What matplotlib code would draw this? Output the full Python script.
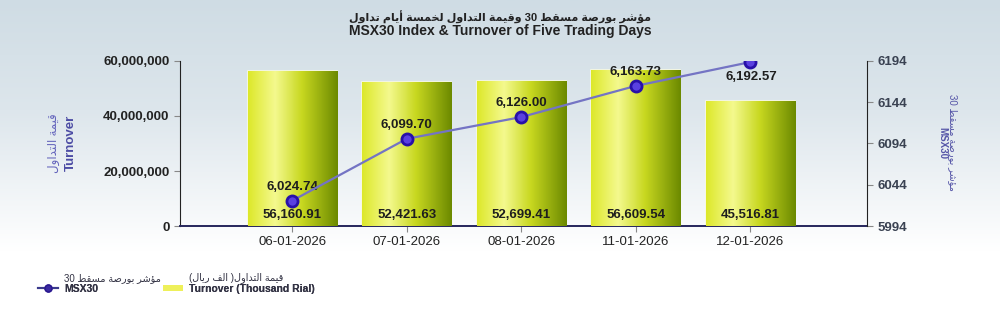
import re
import numpy as np
import matplotlib
matplotlib.use("Agg")
import matplotlib.pyplot as plt
from matplotlib.colors import LinearSegmentedColormap
from matplotlib.lines import Line2D
from matplotlib.patches import Patch

# data
dates = ["06-01-2026", "07-01-2026", "08-01-2026", "11-01-2026", "12-01-2026"]
turnover = [56160.91, 52421.63, 52699.41, 56609.54, 45516.81]   # thousand rial
msx30 = [6024.74, 6099.70, 6126.00, 6163.73, 6192.57]
left_ticks = [0, 20000000, 40000000, 60000000]
right_ticks = [5994, 6044, 6094, 6144, 6194]

# tiny arabic shaper (matplotlib has no shaping / bidi)
FORMS = {
    '\u0627': ('\uFE8D', '\uFE8E', None, None),
    '\u0623': ('\uFE83', '\uFE84', None, None),
    '\u0624': ('\uFE85', '\uFE86', None, None),
    '\u0628': ('\uFE8F', '\uFE90', '\uFE91', '\uFE92'),
    '\u0629': ('\uFE93', '\uFE94', None, None),
    '\u062A': ('\uFE95', '\uFE96', '\uFE97', '\uFE98'),
    '\u062E': ('\uFEA5', '\uFEA6', '\uFEA7', '\uFEA8'),
    '\u062F': ('\uFEA9', '\uFEAA', None, None),
    '\u0631': ('\uFEAD', '\uFEAE', None, None),
    '\u0633': ('\uFEB1', '\uFEB2', '\uFEB3', '\uFEB4'),
    '\u0634': ('\uFEB5', '\uFEB6', '\uFEB7', '\uFEB8'),
    '\u0635': ('\uFEB9', '\uFEBA', '\uFEBB', '\uFEBC'),
    '\u0637': ('\uFEC1', '\uFEC2', '\uFEC3', '\uFEC4'),
    '\u0641': ('\uFED1', '\uFED2', '\uFED3', '\uFED4'),
    '\u0642': ('\uFED5', '\uFED6', '\uFED7', '\uFED8'),
    '\u0644': ('\uFEDD', '\uFEDE', '\uFEDF', '\uFEE0'),
    '\u0645': ('\uFEE1', '\uFEE2', '\uFEE3', '\uFEE4'),
    '\u0648': ('\uFEED', '\uFEEE', None, None),
    '\u064A': ('\uFEF1', '\uFEF2', '\uFEF3', '\uFEF4'),
}
MIRROR = str.maketrans("()", ")(")


def shape(s):
    out = []
    for i, c in enumerate(s):
        if c not in FORMS:
            out.append(c)
            continue
        iso, fin, ini, med = FORMS[c]
        prev = s[i - 1] if i > 0 else ''
        nxt = s[i + 1] if i + 1 < len(s) else ''
        jp = prev in FORMS and FORMS[prev][2] is not None
        jn = nxt in FORMS and ini is not None
        if jp and jn:
            out.append(med)
        elif jp:
            out.append(fin)
        elif jn:
            out.append(ini)
        else:
            out.append(iso)
    return ''.join(out)


def ar(text):
    s = shape(text)
    parts = re.findall(r'[0-9A-Za-z.,]+|[^0-9A-Za-z.,]+', s)
    vis = []
    for p in reversed(parts):
        if re.match(r'[0-9A-Za-z.,]', p):
            vis.append(p)
        else:
            vis.append(p[::-1].translate(MIRROR))
    return ''.join(vis)


plt.rcParams['font.family'] = ['Liberation Sans', 'DejaVu Sans']

fig = plt.figure(figsize=(10, 3.14), dpi=100)

# background gradient
bg = fig.add_axes([0, 0, 1, 1], zorder=-10)
bg_cmap = LinearSegmentedColormap.from_list(
    "bg", [(0, "#cfdce4"), (0.35, "#dde6ec"), (0.8, "#ffffff"), (1, "#ffffff")])
bg.imshow(np.linspace(0, 1, 256).reshape(-1, 1), aspect='auto', cmap=bg_cmap,
          extent=[0, 1, 0, 1], origin='upper')
bg.axis('off')

ax = fig.add_axes([0.18, 0.28, 0.687, 0.526])
ax.patch.set_alpha(0)
x = np.arange(len(dates))
vals = np.array(turnover) * 1000
bars = ax.bar(x, vals, width=0.78, color='#e0e64a', edgecolor='#f8f9e0', linewidth=1.2, zorder=2)

bar_cmap = LinearSegmentedColormap.from_list(
    "bar", [(0, "#dde82a"), (0.3, "#f4f98e"), (0.6, "#c8d820"), (1.0, "#6c8a00")])
grad = np.linspace(0, 1, 128).reshape(1, -1)
for b in bars:
    im = ax.imshow(grad, cmap=bar_cmap, aspect='auto', zorder=3,
                   extent=[b.get_x(), b.get_x() + b.get_width(), 0, b.get_height()])
    im.set_clip_path(b)

for xi, v in zip(x, turnover):
    ax.annotate(f"{v:,.2f}", (xi, 0), xytext=(0, 4), textcoords='offset points',
                ha='center', va='bottom', fontsize=9.5, fontweight='bold', color='#1e1e1e', zorder=5)

ax.set_xlim(-0.98, 5.02)
ax.set_ylim(0, 60000000)
ax.set_xticks(x)
ax.set_xticklabels(dates, fontsize=9.5, color='#222222')
ax.set_yticks(left_ticks)
ax.set_yticklabels([f"{t:,}" for t in left_ticks], fontsize=9.5, fontweight='bold', color='#222222')
ax.spines['top'].set_visible(False)
ax.spines['right'].set_visible(False)
ax.spines['bottom'].set_color('#26265c')
ax.spines['bottom'].set_linewidth(1.4)
ax.spines['left'].set_color('#222222')
ax.tick_params(axis='y', length=4, color='#888888')
ax.tick_params(axis='x', length=4, color='#888888')

# axis titles
fig.text(0.054, 0.545, ar("قيمة التداول"), rotation=90, ha='center', va='center',
         fontsize=8.5, color='#6464bc')
fig.text(0.071, 0.545, "Turnover", rotation=90, ha='center', va='center',
         fontsize=9.5, fontweight='bold', color='#4c4ca4')

ax2 = ax.twinx()
ax2.plot(x, msx30, color='#7474c4', lw=1.6, marker='o', markersize=8,
         markerfacecolor='#5a40e0', markeredgecolor='#2810a8', markeredgewidth=2, zorder=6)
for i, (xi, v) in enumerate(zip(x, msx30)):
    off = (1, -11) if i == len(msx30) - 1 else (0, 10)
    ax2.annotate(f"{v:,.2f}", (xi, v), xytext=off, textcoords='offset points',
                 ha='center', va='center', fontsize=9.5, fontweight='bold', color='#1e1e1e')
ax2.set_ylim(5994, 6194)
ax2.set_yticks(right_ticks)
ax2.set_yticklabels([str(t) for t in right_ticks], fontsize=9.5, fontweight='bold', color='#3a4252')
ax2.spines['top'].set_visible(False)
ax2.spines['left'].set_visible(False)
ax2.spines['bottom'].set_visible(False)
ax2.spines['right'].set_color('#222222')
ax2.tick_params(axis='y', length=4, color='#888888')

fig.text(0.953, 0.545, ar("مؤشر بورصة مسقط 30"), rotation=270, ha='center', va='center',
         fontsize=7, color='#5656a8')
fig.text(0.942, 0.545, "MSX30", rotation=270, ha='center', va='center',
         fontsize=7, fontweight='bold', color='#5656a8')

# title
fig.text(0.5, 0.945, ar("مؤشر بورصة مسقط 30 وقيمة التداول لخمسة أيام تداول"),
         ha='center', va='center', fontsize=8, fontweight='bold', color='#222222')
fig.text(0.5, 0.9, "MSX30 Index & Turnover of Five Trading Days",
         ha='center', va='center', fontsize=10, fontweight='bold', color='#222222')

# legend: english line in the legend, arabic line written just above it
leg_items = [
    (Line2D([0], [0], color='#3a3a8c', lw=1.5, marker='o', markersize=5,
            markerfacecolor='#3a2aa0', markeredgecolor='#2a1890'),
     "MSX30", ar("مؤشر بورصة مسقط 30"), 0.038),
    (Patch(facecolor='#eef05a', edgecolor='none'),
     "Turnover (Thousand Rial)", ar("قيمة التداول( الف ريال)"), 0.163),
]
legs = []
for h, en, arab, lx in leg_items:
    lg = fig.legend([h], [en], loc='lower left', bbox_to_anchor=(lx, 0.065),
                    frameon=False, prop={'size': 7.5, 'weight': 'bold'}, handlelength=1.9,
                    handleheight=0.6, handletextpad=0.6, borderpad=0, borderaxespad=0)
    lg.get_texts()[0].set_color('#333344')
    fig.add_artist(lg)
    legs.append((lg, arab))

fig.canvas.draw()
inv = fig.transFigure.inverted()
for lg, arab in legs:
    bb = lg.get_texts()[0].get_window_extent()
    fx, fy = inv.transform((bb.x0, bb.y1))
    fig.text(fx, fy + 0.003, arab, ha='left', va='bottom', fontsize=7, color='#333344')

fig.savefig("out.png", dpi=100)
